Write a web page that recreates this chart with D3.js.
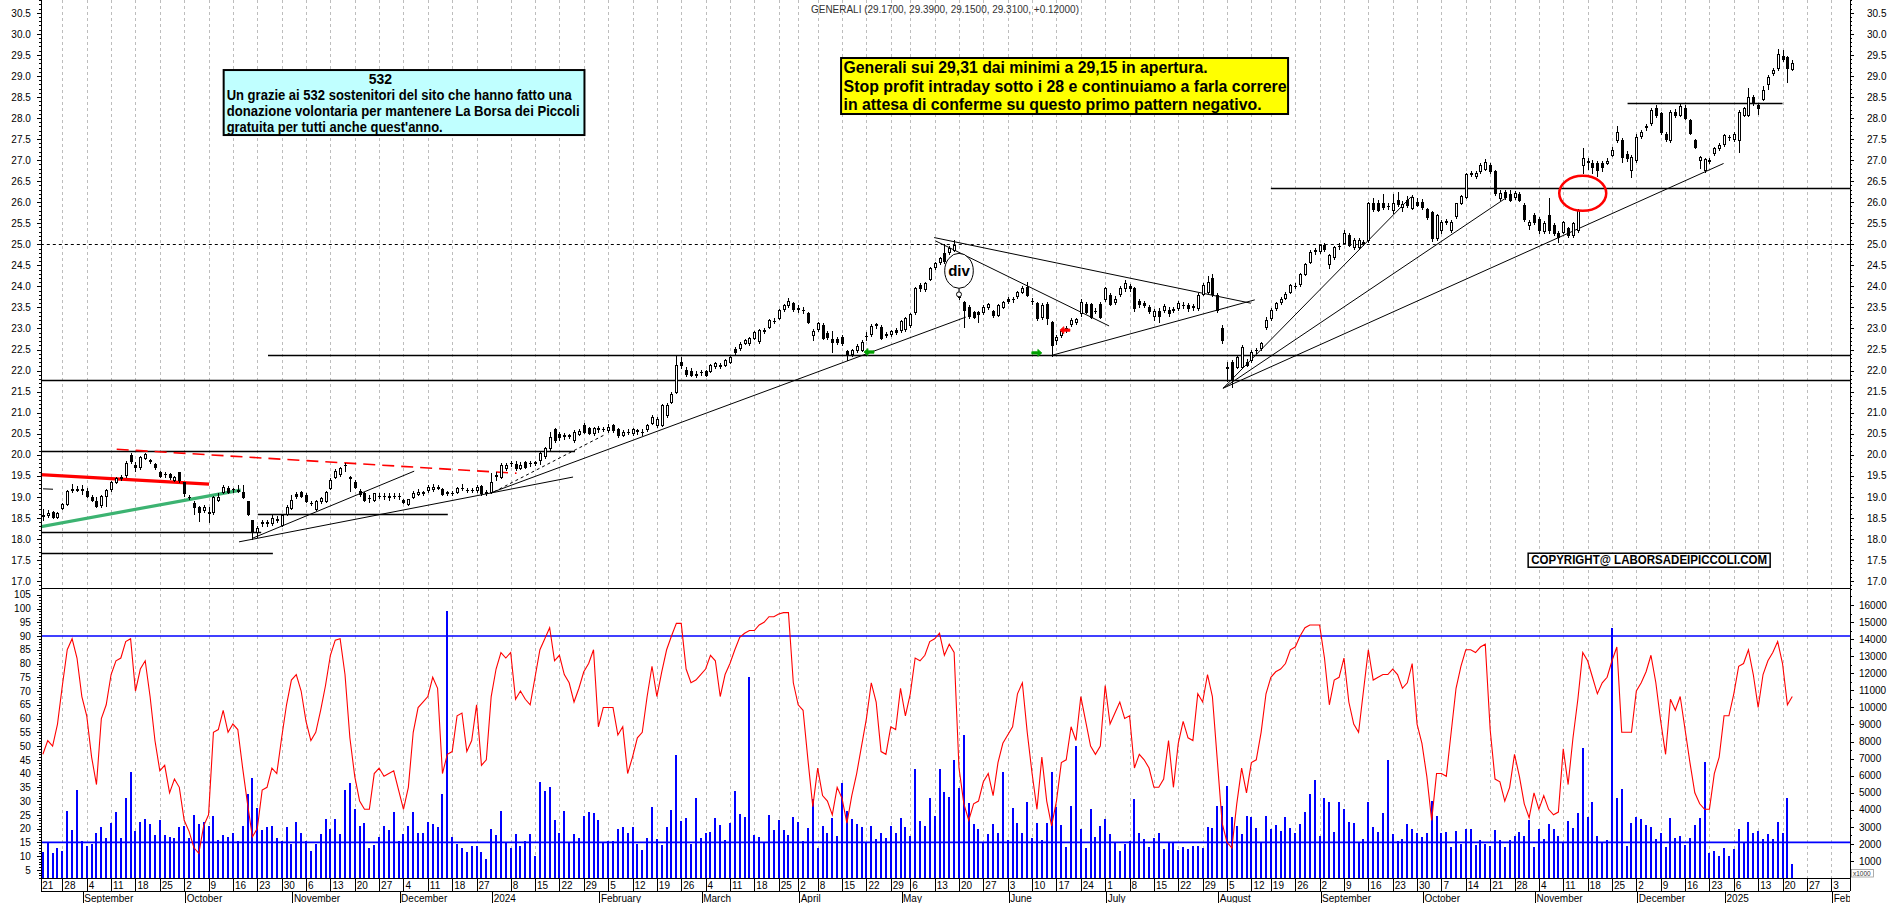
<!DOCTYPE html>
<html><head><meta charset="utf-8">
<script src="https://cdn.jsdelivr.net/npm/d3@7"></script>
<style>
body{margin:0;background:#fff;}
svg{display:block;}
text{font-family:"Liberation Sans",Arial,sans-serif;}
</style>
</head><body>
<svg id="c" width="1890" height="903"></svg>
<script>
// ---------------- DATA (trading day 1 = 22 Aug 2023 ... 360 = 22 Jan 2025) ----------------
const title = "GENERALI (29.1700, 29.3900, 29.1500, 29.3100, +0.12000)";
const holidays = ["2023-12-25","2023-12-26","2024-01-01","2024-03-29","2024-04-01","2024-05-01",
  "2024-08-15","2024-12-24","2024-12-25","2024-12-26","2024-12-31","2025-01-01"];
const monthNames = ["January","February","March","April","May","June","July","August","September","October","November","December"];

const opens = [
18.55,18.58,18.63,18.51,18.73,18.82,19.17,19.17,19.18,19.14,
19.00,18.90,18.80,19.03,19.18,19.36,19.45,19.52,19.99,19.76,
19.70,19.93,19.88,19.78,19.59,19.55,19.55,19.40,19.58,19.35,
19.00,18.86,18.75,18.69,18.63,18.63,18.93,19.12,19.22,19.18,
19.15,19.12,18.89,18.44,18.17,18.38,18.39,18.37,18.47,18.33,
18.60,18.73,19.07,19.12,19.05,18.86,18.71,18.89,18.91,19.20,
19.46,19.54,19.75,19.48,19.36,19.15,19.10,18.97,18.93,19.02,
19.03,19.00,19.03,19.02,18.93,18.83,19.00,19.06,19.10,19.16,
19.18,19.22,19.18,19.10,19.10,19.12,19.21,19.17,19.16,19.16,
19.26,19.10,19.12,19.50,19.48,19.68,19.80,19.78,19.68,19.82,
19.80,19.80,19.88,19.97,20.15,20.61,20.49,20.44,20.46,20.35,
20.50,20.71,20.64,20.52,20.62,20.62,20.58,20.70,20.60,20.47,
20.55,20.52,20.58,20.54,20.60,20.75,20.71,20.71,20.94,21.26,
21.50,22.21,22.01,22.00,21.92,21.96,21.99,21.99,22.10,22.14,
22.13,22.21,22.51,22.53,22.65,22.65,22.77,22.70,22.95,23.04,
23.17,23.26,23.46,23.56,23.60,23.47,23.45,23.36,22.85,22.99,
23.08,22.89,22.75,22.75,22.80,22.46,22.39,22.49,22.49,22.81,
22.86,23.09,23.04,22.88,22.86,22.96,22.96,22.99,23.08,23.38,
24.03,23.94,24.18,24.45,24.57,24.79,24.81,24.87,23.75,23.62,
23.52,23.38,23.38,23.38,23.50,23.41,23.33,23.52,23.70,23.69,
23.76,23.87,23.99,23.66,23.60,23.28,23.57,23.15,22.73,22.85,
22.98,23.10,23.16,23.36,23.57,23.57,23.41,23.58,23.70,23.80,
23.62,23.82,23.95,24.00,23.95,23.66,23.60,23.50,23.30,23.42,
23.45,23.44,23.44,23.49,23.55,23.56,23.50,23.48,23.83,23.87,
24.19,23.80,23.00,22.05,22.21,22.09,22.09,22.21,22.25,22.48,
22.53,23.04,23.24,23.48,23.62,23.73,23.87,24.02,24.05,24.29,
24.58,24.84,24.84,24.98,24.54,24.69,24.96,25.03,25.22,24.94,
24.94,25.04,25.10,25.97,25.97,25.97,25.90,25.81,26.05,25.89,
26.05,25.87,26.00,26.00,25.83,25.77,25.14,25.34,25.54,25.34,
25.67,25.98,26.13,26.68,26.62,26.74,26.80,26.88,26.74,26.11,
26.25,26.20,26.13,26.20,25.93,25.47,25.69,25.61,25.32,25.69,
25.45,25.26,25.30,25.38,25.22,25.34,26.88,26.96,26.94,26.92,
26.92,26.94,27.13,27.47,27.47,27.15,26.76,27.00,27.57,27.78,
27.87,28.25,28.11,27.62,27.47,28.15,28.07,28.23,27.95,27.47,
27.00,26.76,26.98,27.17,27.28,27.38,27.54,27.50,27.47,28.07,
28.07,28.49,28.30,28.46,28.82,29.07,29.18,29.47,29.45,29.17];

const highs = [
18.70,18.68,18.66,18.64,18.85,19.17,19.30,19.25,19.28,19.20,
19.04,19.00,19.05,19.18,19.38,19.48,19.52,19.84,20.03,19.82,
19.97,20.05,19.90,19.80,19.62,19.60,19.57,19.50,19.60,19.36,
19.05,18.90,18.78,18.80,18.77,19.03,19.10,19.28,19.25,19.22,
19.28,19.28,18.90,18.45,18.30,18.45,18.44,18.60,18.55,18.60,
18.80,19.05,19.12,19.15,19.08,18.90,18.92,19.00,19.15,19.45,
19.65,19.72,19.80,19.50,19.40,19.18,19.12,19.05,19.10,19.10,
19.08,19.08,19.10,19.08,18.96,18.96,19.15,19.18,19.15,19.28,
19.30,19.27,19.22,19.15,19.15,19.24,19.30,19.22,19.22,19.27,
19.28,19.16,19.56,19.58,19.80,19.80,19.86,19.84,19.82,19.86,
19.84,19.86,20.06,20.18,20.55,20.63,20.55,20.52,20.50,20.58,
20.60,20.75,20.66,20.66,20.68,20.66,20.72,20.74,20.63,20.58,
20.60,20.63,20.62,20.60,20.74,20.95,20.90,21.20,21.22,21.48,
22.37,22.33,22.08,22.05,21.98,22.02,22.02,22.16,22.20,22.18,
22.28,22.37,22.55,22.67,22.76,22.80,22.95,22.98,23.02,23.22,
23.24,23.46,23.58,23.72,23.64,23.55,23.50,23.40,22.98,23.15,
23.12,22.95,22.93,22.80,22.84,22.50,22.52,22.62,22.72,22.92,
23.10,23.14,23.08,22.92,22.97,23.00,23.20,23.28,23.37,23.98,
24.08,24.10,24.45,24.58,24.70,25.00,24.95,25.10,23.85,23.66,
23.56,23.42,23.42,23.55,23.60,23.45,23.58,23.65,23.74,23.75,
23.90,24.00,24.10,23.72,23.64,23.60,23.62,23.18,22.85,22.98,
23.06,23.24,23.26,23.70,23.62,23.60,23.48,23.62,23.98,23.85,
23.78,24.00,24.15,24.05,23.98,23.70,23.66,23.55,23.46,23.48,
23.58,23.50,23.52,23.65,23.62,23.60,23.58,23.85,24.08,24.25,
24.30,23.84,23.08,22.20,22.25,22.36,22.60,22.28,22.48,22.54,
22.68,23.28,23.48,23.64,23.74,23.86,24.05,24.08,24.31,24.56,
24.86,24.92,25.00,25.02,24.76,24.96,25.02,25.35,25.26,25.14,
25.14,25.10,26.00,26.10,26.05,26.20,25.98,26.20,26.25,26.02,
26.15,26.18,26.10,26.08,25.86,25.80,25.72,25.58,25.60,25.58,
25.99,26.16,26.70,26.75,26.75,26.92,27.02,26.92,26.76,26.28,
26.30,26.28,26.26,26.25,25.98,25.58,25.74,25.66,25.55,26.10,
25.50,25.32,25.56,25.42,25.54,25.85,27.28,27.05,27.00,26.98,
26.98,27.05,27.30,27.82,27.52,27.22,27.12,27.62,27.72,27.85,
28.25,28.32,28.15,27.66,28.18,28.22,28.33,28.30,27.98,27.50,
27.10,27.05,27.06,27.32,27.40,27.62,27.60,27.66,28.18,28.26,
28.72,28.55,28.35,28.76,29.02,29.18,29.65,29.62,29.48,29.39];

const lows = [
18.44,18.52,18.50,18.49,18.70,18.80,19.12,19.14,19.07,19.00,
18.89,18.75,18.77,18.78,19.15,19.33,19.40,19.48,19.80,19.62,
19.66,19.90,19.80,19.66,19.46,19.47,19.43,19.37,19.35,19.03,
18.95,18.60,18.43,18.65,18.41,18.60,18.90,19.10,19.10,19.12,
19.12,18.97,18.58,18.00,18.05,18.30,18.30,18.33,18.40,18.30,
18.56,18.70,18.98,19.00,18.88,18.80,18.68,18.85,18.88,19.18,
19.44,19.50,19.62,19.15,19.20,19.02,18.90,18.88,18.90,18.97,
18.95,18.93,18.97,18.95,18.85,18.80,18.98,19.04,19.05,19.12,
19.15,19.18,19.05,19.05,19.04,19.10,19.17,19.12,19.12,19.12,
19.05,19.05,19.08,19.40,19.45,19.64,19.74,19.64,19.65,19.68,
19.74,19.75,19.78,19.93,20.10,20.30,20.36,20.38,20.40,20.30,
20.46,20.52,20.50,20.48,20.55,20.56,20.55,20.55,20.42,20.44,
20.50,20.48,20.50,20.48,20.57,20.72,20.65,20.68,20.90,21.22,
21.46,22.05,21.88,21.86,21.85,21.90,21.86,21.96,22.06,22.06,
22.10,22.18,22.40,22.50,22.62,22.60,22.74,22.66,22.90,23.00,
23.12,23.22,23.42,23.52,23.42,23.40,23.36,23.12,22.73,22.95,
22.75,22.76,22.43,22.62,22.60,22.25,22.34,22.45,22.46,22.73,
22.82,23.02,22.74,22.80,22.82,22.86,22.92,22.95,23.04,23.34,
23.90,23.90,24.14,24.42,24.54,24.56,24.78,24.84,23.70,23.04,
23.26,23.24,23.16,23.34,23.46,23.28,23.30,23.48,23.60,23.64,
23.72,23.84,23.76,23.58,23.20,23.22,23.10,22.35,22.62,22.80,
22.92,23.06,23.10,23.30,23.36,23.24,23.36,23.24,23.65,23.55,
23.58,23.78,23.90,23.90,23.42,23.52,23.50,23.36,23.20,23.15,
23.40,23.30,23.38,23.45,23.48,23.42,23.44,23.44,23.80,23.84,
23.78,23.40,22.65,21.75,21.62,22.05,22.05,22.10,22.20,22.42,
22.50,22.98,23.20,23.45,23.58,23.70,23.84,23.95,24.02,24.26,
24.55,24.78,24.80,24.84,24.43,24.66,24.90,25.00,24.95,24.90,
24.90,24.98,25.05,25.80,25.78,25.85,25.84,25.75,25.90,25.80,
25.88,25.84,25.90,25.84,25.60,25.08,25.10,25.28,25.48,25.30,
25.62,25.95,26.10,26.62,26.58,26.70,26.76,26.70,26.18,26.06,
26.08,26.02,26.08,26.02,25.56,25.36,25.48,25.28,25.26,25.28,
25.22,25.05,25.26,25.18,25.18,25.30,26.70,26.80,26.70,26.62,
26.75,26.90,27.10,27.44,26.95,26.98,26.60,26.96,27.52,27.72,
27.84,28.02,27.62,27.45,27.44,28.02,28.04,27.98,27.62,27.28,
26.82,26.72,26.94,27.12,27.24,27.34,27.48,27.46,27.20,28.04,
28.04,28.30,28.10,28.42,28.70,29.02,29.15,29.36,28.85,29.15];

const closes = [
18.56,18.62,18.53,18.62,18.82,19.15,19.18,19.19,19.16,19.03,
18.93,18.78,19.03,19.16,19.36,19.44,19.46,19.81,19.84,19.70,
19.94,20.01,19.84,19.70,19.50,19.54,19.46,19.47,19.39,19.08,
18.99,18.77,18.63,18.77,18.61,19.00,19.00,19.24,19.12,19.18,
19.17,18.99,18.60,18.17,18.27,18.39,18.38,18.49,18.46,18.57,
18.77,18.93,19.03,19.03,18.91,18.85,18.89,18.97,19.12,19.40,
19.62,19.68,19.76,19.45,19.24,19.07,18.93,18.98,19.08,19.03,
19.02,19.01,19.02,19.03,18.88,18.94,19.10,19.12,19.11,19.24,
19.24,19.23,19.07,19.11,19.10,19.20,19.22,19.16,19.17,19.24,
19.08,19.12,19.36,19.52,19.76,19.76,19.80,19.68,19.76,19.72,
19.80,19.82,20.03,20.15,20.42,20.35,20.41,20.46,20.45,20.55,
20.56,20.55,20.52,20.63,20.63,20.61,20.67,20.58,20.47,20.53,
20.55,20.60,20.56,20.53,20.71,20.89,20.86,21.18,21.18,21.44,
22.13,22.13,21.91,21.90,21.90,21.97,21.90,22.13,22.17,22.11,
22.25,22.33,22.43,22.64,22.73,22.78,22.92,22.96,22.97,23.20,
23.18,23.44,23.56,23.65,23.46,23.48,23.44,23.16,22.94,23.12,
22.78,22.80,22.67,22.68,22.65,22.37,22.49,22.59,22.69,22.82,
23.07,23.10,22.77,22.84,22.94,22.91,23.18,23.26,23.34,23.95,
23.95,24.07,24.43,24.55,24.68,24.60,24.92,24.98,23.80,23.44,
23.30,23.28,23.34,23.52,23.57,23.32,23.55,23.62,23.65,23.70,
23.87,23.97,23.80,23.65,23.24,23.56,23.26,22.61,22.80,22.95,
23.00,23.20,23.22,23.62,23.40,23.28,23.42,23.28,23.95,23.58,
23.70,23.95,24.07,23.95,23.48,23.58,23.56,23.42,23.42,23.30,
23.53,23.36,23.46,23.60,23.56,23.48,23.54,23.80,24.03,24.11,
23.83,23.44,22.73,22.08,21.78,22.33,22.57,22.13,22.45,22.50,
22.66,23.20,23.44,23.60,23.71,23.83,24.03,24.01,24.29,24.54,
24.82,24.86,24.98,24.88,24.74,24.94,24.97,25.27,24.98,25.10,
25.11,25.05,25.97,25.85,25.81,25.89,25.92,25.97,25.95,25.95,
25.93,26.13,25.93,25.89,25.65,25.14,25.69,25.53,25.55,25.53,
25.97,26.14,26.67,26.69,26.70,26.88,26.96,26.74,26.21,26.22,
26.13,26.06,26.22,26.06,25.61,25.53,25.53,25.34,25.51,25.34,
25.26,25.18,25.53,25.22,25.50,25.81,27.04,26.98,26.84,26.76,
26.84,26.99,27.25,27.67,27.08,27.06,27.08,27.55,27.67,27.80,
28.19,28.07,27.67,27.51,28.15,28.07,28.28,28.01,27.65,27.30,
27.08,27.02,27.00,27.28,27.36,27.59,27.55,27.62,28.15,28.23,
28.50,28.36,28.25,28.66,28.98,29.15,29.53,29.40,29.18,29.31];

// volume, in thousands of shares (axis is "x1000")
const volumes = [
1530,2090,1450,1770,1610,3950,2820,5160,2170,1850,
2010,2660,2980,2330,3220,3870,2330,4670,6210,2740,
3300,3460,3140,2500,3380,2500,2410,2330,2980,3060,
2330,3710,3140,3300,3060,3620,2250,2500,2410,2660,
2170,3060,4910,5880,4110,2820,2980,3060,2330,2170,
2980,2010,3300,2660,2170,1610,2010,2580,3460,2900,
3460,2580,5160,5560,4030,3060,3220,1770,1930,2410,
3060,2820,3870,2170,2580,3060,3870,2660,2660,3300,
3140,2980,4910,15640,2410,2010,1770,1530,1850,1850,
1530,1120,2900,2500,3950,2090,1770,2580,1850,2170,
2580,1290,5640,5080,5320,3380,2660,3950,2090,2580,
2330,3620,3870,3790,3380,2090,2170,2170,2900,2980,
2660,2980,2010,1640,2320,4140,2270,1930,3010,3990,
7210,3360,3500,1970,4670,2340,2620,2680,3500,3110,
2230,3200,5100,3750,3590,11800,2520,2380,2030,3690,
2810,3400,2810,2520,3590,3300,2190,2950,4610,1740,
3070,2660,3500,2460,5550,3950,3460,3160,3010,2130,
3070,2270,2620,2320,3050,2620,3500,2970,2460,6370,
3340,3070,4670,3650,6370,5020,4770,6920,5260,8380,
4380,3150,2850,2090,2580,3160,2620,6190,2230,4080,
3240,2660,4430,2340,3240,2230,3240,6190,4180,3090,
1840,4220,7740,2850,1740,4020,2420,3070,3440,2580,
2090,1600,1990,2190,4610,2620,2290,1800,2320,2620,
1700,2030,2030,1640,1800,1680,1870,1870,1740,2970,
2910,4220,4220,5390,3560,3050,2560,3650,3560,2950,
2090,3650,2850,3110,2770,3560,2910,2620,3160,3850,
4900,5720,2460,4670,4470,2680,4470,4020,3260,3200,
2030,2270,4430,2970,2720,3830,6900,2580,2190,2300,
3150,2850,2620,2420,2620,4530,3650,2620,2680,1840,
2750,1990,2850,2850,1930,2230,1970,1870,2790,2230,
1840,2230,2460,2680,2460,3400,1800,2870,2270,3150,
2870,2480,2090,3320,2910,3830,7620,3590,4430,2460,
2090,2230,14630,4710,5220,1870,3240,3560,3460,3090,
2970,2290,2620,1800,3540,2360,2460,1930,2320,3130,
3500,6780,1480,1600,1290,1740,1290,1680,2870,2030,
3300,2620,2770,2300,2560,2270,3280,2620,4690,820];

// oscillator (left scale 0-100)
const oscillator = [
47,52,50,58,72,85,89,82,68,61,
46,36,60,65,76,81,82,88,89,70,
78,81,68,52,41,43,33,38,35,23,
19,13,11,21,25,55,56,63,55,58,
56,42,29,17,20,34,35,42,40,53,
65,74,76,70,59,52,55,63,72,83,
88.5,89,76,53,39,30,27,27,40,42,
39,40,41,34,27,35,55,64,66,68,
75,71,40,47,48,61,62,48,52,65,
43,45,68,78,84,82,84,67,70,67,
65,75,85,89,93,81,83,76,73,66,
71,77,80,85,57,64,64,64,54,57,
40,46,53,55,68,79,68,77,85,90,
94.6,94.6,78,73,74,76,78,83,81,68,
76,80,85,89.5,91,92,92,94,95,97,
97,98,98.5,98.5,73,65,63,45,28,42,
32,30,25,35,31,22,32,40,50,60,
73,66,48,47,57,56,71,61,69,82,
81,83,88,89,91,83,87,84,42,29,
23,29,30,37,40,32,44,51,54,57,
69,73,55,40,27,46,30,21,30,44,
45,57,52,68,59,50,47,50,72,58,
62,66,60,61,42,47,45,42,35,35,
38,52,35,51,59,53,52,69,66,76,
68,45,22,15,13,29,42,33,44,45,
55,69,75,77,78,80,85,86,90,93,
94,94,94,82,65,74,75,82,66,58,
55,70,85,74,75,76,76,78,76,71,
73,80,58,51,39,23,40,40,39,55,
71,79,85,85,84,86,87,56,38,37,
30,35,47,39,29,24,33,27,32,27,
25,26,49,36,53,67,84,81,75,69,
73,75,81,86,55,55,55,70,73,77,
83,73,59,47,67,63,68,56,44,33,
29,27,27,40,46,61,61,69,79,80,
85,76,64,76,81,84,88,80,65,68];

const priceTicks = d3.range(17, 30.51, 0.5);
const oscTicks = d3.range(5, 106, 5);
const volTicks = d3.range(1000, 16001, 1000);
const oscLevels = [90, 15];

// drawn studies, in (trading-day index, price)
const hLevels = [ // price, from day, to day (null = right edge)
  {p:21.77, a:0, b:null},{p:22.37, a:47.2, b:null},{p:26.33, a:253.0, b:null},
  {p:28.35, a:326.2, b:358.0},{p:20.10, a:0, b:110.2},{p:18.16, a:0, b:45.8},
  {p:17.66, a:0, b:48.2},{p:18.59, a:45.1, b:84.1}];
const trendLines = [
  [41.25,17.93,109.8,19.47],[44.1,18.02,77.2,19.61],[92.8,19.09,190.4,23.27],
  [183.9,25.16,248.9,23.60],[184.2,25.08,219.8,23.06],[208.3,22.37,249.7,23.68],
  [243.2,21.58,281.8,26.13],[243.2,21.58,301.1,26.09],[243.2,21.58,345.9,26.92],
  [1.03,19.19,3.08,19.18]];
const dashedLine = [93.6,19.12,116.2,20.47];
const redThick = [0,19.53,35.1,19.30];
const greenThick = [0,18.28,41.6,19.16];
const redDashed = [16.15,20.13,98.2,19.56];
const divMark = {i:189.0, p:24.37, pin:23.81};
const redCircle = {i:317.0, p:26.21};
const arrows = [{i:169.5,p:22.44,dir:-1,col:"#00a000"},{i:206.0,p:22.42,dir:1,col:"#00a000"},{i:209.7,p:22.96,dir:-1,col:"#ff0000"}];

const note1 = {i:38.1, p:29.14, head:"532", lines:[
  "Un grazie ai 532 sostenitori del sito che hanno fatto una",
  "donazione volontaria per mantenere La Borsa dei Piccoli",
  "gratuita per tutti anche quest'anno."], widths:[345,353,216]};
const note2 = {i:164.8, p:29.426, lines:[
  "Generali sui 29,31 dai minimi a 29,15 in apertura.",
  "Stop profit intraday sotto i 28 e continuiamo a farla correre",
  "in attesa di conferme su questo primo pattern negativo."], widths:[364,443,418]};
const note3 = {i:305.8, p:17.66, text:"COPYRIGHT@ LABORSADEIPICCOLI.COM"};

// ---------------- CALENDAR ----------------
const days = [];
{ let d = new Date(Date.UTC(2023,7,21));
  while (days.length < 373) {
    const dow = d.getUTCDay(), s = d.toISOString().slice(0,10);
    if (dow !== 0 && dow !== 6 && !holidays.includes(s)) days.push(new Date(d));
    d.setUTCDate(d.getUTCDate()+1);
  } }
const candles = opens.map((o,k)=>({i:k+1,o,h:highs[k],l:lows[k],c:closes[k],v:volumes[k],osc:oscillator[k]}));

// ---------------- LAYOUT ----------------
const xL = 40.8, xR = 1850, pBottom = 588.3, vBase = 878, row2 = 891;
const svg = d3.select("#c");
const x = d3.scaleLinear().domain([0,372]).range([38, 38+4.873*372]);
const yP = d3.scaleLinear().domain([17,30]).range([581.0,33.85]);
const yO = d3.scaleLinear().domain([0,100]).range([883.6,608.5]);
const yV = d3.scaleLinear().domain([0,16000]).range([878,605.0]);

const defs = svg.append("defs");
defs.append("clipPath").attr("id","cp").append("rect").attr("x",xL).attr("y",0).attr("width",xR-xL).attr("height",pBottom);
defs.append("clipPath").attr("id","cl").append("rect").attr("x",xL).attr("y",pBottom+0.5).attr("width",xR-xL).attr("height",vBase-pBottom-0.5);
defs.append("clipPath").attr("id","ca").append("rect").attr("x",xL).attr("y",vBase).attr("width",xR-xL).attr("height",30);
defs.append("clipPath").attr("id","clab").append("rect").attr("x",0).attr("y",pBottom+1).attr("width",1890).attr("height",300);

// week ticks & month starts
const weekTicks = [], monthTicks = [];
days.forEach((d,i)=>{
  const dow = (d.getUTCDay()+6)%7;
  const mon = new Date(d); mon.setUTCDate(d.getUTCDate()-dow);
  const sun = new Date(mon); sun.setUTCDate(mon.getUTCDate()+6);
  const prev = i>0 ? days[i-1] : null;
  let newWeek = true;
  if (prev) { const pd=(prev.getUTCDay()+6)%7; newWeek = (d-prev)/864e5 > (dow - pd) || pd >= dow; }
  const hasJan1 = sun.getUTCFullYear() !== mon.getUTCFullYear() || (mon.getUTCMonth()===0 && mon.getUTCDate()===1);
  if (newWeek && !hasJan1) weekTicks.push(i);
  if (prev && prev.getUTCMonth() !== d.getUTCMonth()) monthTicks.push(i);
});

// ---------------- GRID ----------------
const grid = svg.append("g").attr("shape-rendering","crispEdges");
grid.selectAll("line").data(weekTicks.filter(i=>x(i)>xL+1)).join("line")
  .attr("x1",i=>Math.round(x(i))+0.5).attr("x2",i=>Math.round(x(i))+0.5)
  .attr("y1",0).attr("y2",vBase).attr("stroke","#bdbdbd").attr("stroke-dasharray","3,3");

// ---------------- PRICE PANEL ----------------
const gp = svg.append("g").attr("clip-path","url(#cp)");
const line1 = (g,a,col,w,dash)=>g.append("line").attr("x1",x(a[0])).attr("y1",yP(a[1])).attr("x2",x(a[2])).attr("y2",yP(a[3]))
   .attr("stroke",col).attr("stroke-width",w).attr("stroke-dasharray",dash||null);

gp.append("line").attr("x1",xL).attr("x2",xR).attr("y1",Math.round(yP(25))+0.5).attr("y2",Math.round(yP(25))+0.5)
  .attr("stroke","#000").attr("stroke-dasharray","3,3");
hLevels.forEach(h=>{
  const yy = Math.round(yP(h.p))+0.5;
  gp.append("line").attr("x1",h.a===0?xL:x(h.a)).attr("x2",h.b===null?xR:x(h.b)).attr("y1",yy).attr("y2",yy)
    .attr("stroke","#000").attr("stroke-width",1.3);
});
trendLines.forEach(t=>line1(gp,t,"#000",1));
line1(gp,dashedLine,"#000",1,"3,3");
line1(gp,redThick,"#ff0000",3.2);
line1(gp,greenThick,"#3cb371",3.2);
line1(gp,redDashed,"#ff0000",1.6,"12,7");

// candles
const gc = gp.append("g").attr("shape-rendering","crispEdges");
candles.forEach(d=>{
  const bx = Math.round(x(d.i));
  gc.append("line").attr("x1",bx+0.5).attr("x2",bx+0.5).attr("y1",Math.round(yP(d.h))).attr("y2",Math.round(yP(d.l))+1)
    .attr("stroke","#000");
  const top = Math.round(yP(Math.max(d.o,d.c))), bot = Math.round(yP(Math.min(d.o,d.c)));
  if (bot - top < 1) {
    gc.append("line").attr("x1",bx-1).attr("x2",bx+2).attr("y1",top+0.5).attr("y2",top+0.5).attr("stroke","#000");
  } else {
    gc.append("rect").attr("x",bx-0.5).attr("y",top+0.5).attr("width",2).attr("height",bot-top)
      .attr("fill", d.c>=d.o ? "#fff" : "#000").attr("stroke","#000");
  }
});

// div marker
{ const cx = x(divMark.i), cy = yP(divMark.p);
  gp.append("line").attr("x1",cx).attr("x2",cx).attr("y1",cy+17.5).attr("y2",yP(divMark.pin)-2.5).attr("stroke","#000");
  gp.append("circle").attr("cx",cx).attr("cy",yP(divMark.pin)).attr("r",2.5).attr("fill","#fff").attr("stroke","#000");
  gp.append("ellipse").attr("cx",cx).attr("cy",cy).attr("rx",14.3).attr("ry",17.5).attr("fill","#fff").attr("stroke","#000");
  gp.append("text").attr("x",cx).attr("y",cy+5).attr("text-anchor","middle").attr("font-size",15).attr("font-weight","bold").text("div");
}
// red circle
gp.append("ellipse").attr("cx",x(redCircle.i)).attr("cy",yP(redCircle.p)).attr("rx",23.5).attr("ry",17.5)
  .attr("fill","none").attr("stroke","#ff0000").attr("stroke-width",2.5);
// arrows
arrows.forEach(a=>{
  const tx = x(a.i), ty = yP(a.p), s = -a.dir;
  const pts = [[0,0],[4,-3.5],[4,-1.2],[10,-1.2],[10,1.2],[4,1.2],[4,3.5]].map(p=>[tx+s*p[0], ty+p[1]]);
  gp.append("path").attr("d","M"+pts.map(p=>p.join(",")).join("L")+"Z").attr("fill",a.col).attr("stroke",a.col).attr("stroke-width",0.8);
});

// notes
const condensed = '"Liberation Sans Narrow","Arial Narrow","Liberation Sans",Arial,sans-serif';
{ const bx = x(note1.i), by = yP(note1.p);
  svg.append("rect").attr("x",bx).attr("y",by).attr("width",360.8).attr("height",65)
    .attr("fill","#c0ffff").attr("stroke","#000").attr("stroke-width",2);
  svg.append("text").attr("x",bx+156.7).attr("y",by+13.5).attr("text-anchor","middle").attr("font-size",14)
    .attr("font-weight","bold").style("font-family",condensed).text(note1.head);
  note1.lines.forEach((t,k)=>svg.append("text").attr("x",bx+3).attr("y",by+29.5+k*16.3).attr("font-size",14)
    .attr("font-weight","bold").style("font-family",condensed)
    .attr("textLength",note1.widths[k]).attr("lengthAdjust","spacingAndGlyphs").text(t));
}
{ const bx = x(note2.i), by = yP(note2.p);
  svg.append("rect").attr("x",bx).attr("y",by).attr("width",447).attr("height",56)
    .attr("fill","#ffff00").attr("stroke","#000").attr("stroke-width",2);
  note2.lines.forEach((t,k)=>svg.append("text").attr("x",bx+2.5).attr("y",by+15+k*18.6).attr("font-size",16)
    .attr("font-weight","bold").style("font-family",condensed)
    .attr("textLength",note2.widths[k]).attr("lengthAdjust","spacingAndGlyphs").text(t));
}
{ const bx = x(note3.i), by = yP(note3.p);
  svg.append("rect").attr("x",bx).attr("y",by).attr("width",242).attr("height",14)
    .attr("fill","#fff").attr("stroke","#000").attr("stroke-width",1.5);
  svg.append("text").attr("x",bx+3).attr("y",by+11).attr("font-size",12).attr("font-weight","bold")
    .style("font-family",condensed).attr("textLength",236).attr("lengthAdjust","spacingAndGlyphs").text(note3.text);
}
svg.append("text").attr("x",811).attr("y",12.5).attr("font-size",10.5).attr("fill","#333")
  .attr("textLength",268).attr("lengthAdjust","spacingAndGlyphs").text(title);

// ---------------- LOWER PANEL ----------------
const gl = svg.append("g").attr("clip-path","url(#cl)");
gl.append("g").attr("shape-rendering","crispEdges").selectAll("rect").data(candles).join("rect")
  .attr("x",d=>Math.round(x(d.i))-1).attr("width",2)
  .attr("y",d=>Math.round(yV(d.v))).attr("height",d=>vBase-Math.round(yV(d.v)))
  .attr("fill","#0000ff");
oscLevels.forEach(v=>gl.append("line").attr("x1",xL).attr("x2",xR).attr("y1",yO(v)).attr("y2",yO(v))
  .attr("stroke","#0000ff").attr("stroke-width",1.6));
gl.append("path").datum(candles).attr("fill","none").attr("stroke","#ff0000").attr("stroke-width",1.1)
  .attr("d",d3.line().x(d=>x(d.i)).y(d=>yO(d.osc)));

// ---------------- FRAMES & AXES ----------------
const fr = svg.append("g").attr("shape-rendering","crispEdges").attr("stroke","#000");
fr.append("line").attr("x1",xL).attr("x2",xR).attr("y1",Math.round(pBottom)+0.5).attr("y2",Math.round(pBottom)+0.5).attr("stroke-width",1.5);
fr.append("line").attr("x1",xL).attr("x2",xR).attr("y1",vBase+0.5).attr("y2",vBase+0.5).attr("stroke-width",1.5);
fr.append("line").attr("x1",xL).attr("x2",xR).attr("y1",row2+0.5).attr("y2",row2+0.5).attr("stroke-width",1.5);
fr.append("line").attr("x1",Math.round(xL)+0.5).attr("x2",Math.round(xL)+0.5).attr("y1",0).attr("y2",row2).attr("stroke-width",1.5);
fr.append("line").attr("x1",xR+0.5).attr("x2",xR+0.5).attr("y1",0).attr("y2",row2).attr("stroke-width",1.5);

const styleAxis = g=>{ g.select(".domain").remove(); g.selectAll("line").attr("stroke","#000").attr("shape-rendering","crispEdges");
  g.selectAll("text").attr("font-size",10).attr("fill","#000").style("font-family",'"Liberation Sans",Arial,sans-serif'); };
const noLab = g=>{ g.select(".domain").remove(); g.selectAll("text").remove(); g.selectAll("line").attr("stroke","#000").attr("shape-rendering","crispEdges"); };

// price axes
svg.append("g").attr("transform",`translate(${xL},0)`).call(d3.axisLeft(yP).tickValues(d3.range(16.8,30.95,0.1)).tickSize(2)).call(noLab);
svg.append("g").attr("transform",`translate(${xL},0)`).call(d3.axisLeft(yP).tickValues(priceTicks).tickSize(4).tickPadding(6).tickFormat(d3.format(".1f"))).call(styleAxis);
svg.append("g").attr("transform",`translate(${xR},0)`).call(d3.axisRight(yP).tickValues(d3.range(16.8,30.95,0.1)).tickSize(2)).call(noLab);
svg.append("g").attr("transform",`translate(${xR},0)`).call(d3.axisRight(yP).tickValues(priceTicks).tickSize(4).tickPadding(13).tickFormat(d3.format(".1f"))).call(styleAxis);
// lower axes
const gla = svg.append("g").attr("clip-path","url(#clab)");
gla.append("g").attr("transform",`translate(${xL},0)`).call(d3.axisLeft(yO).tickValues(d3.range(2,106,1)).tickSize(2)).call(noLab);
gla.append("g").attr("transform",`translate(${xL},0)`).call(d3.axisLeft(yO).tickValues(oscTicks).tickSize(4).tickPadding(6).tickFormat(d3.format("d"))).call(styleAxis);
gla.append("g").attr("transform",`translate(${xR},0)`).call(d3.axisRight(yV).tickValues(d3.range(500,16600,500)).tickSize(2)).call(noLab);
gla.append("g").attr("transform",`translate(${xR},0)`).call(d3.axisRight(yV).tickValues(volTicks).tickSize(4).tickPadding(5).tickFormat(d3.format("d"))).call(styleAxis);
svg.append("rect").attr("x",1851.5).attr("y",869.5).attr("width",22).attr("height",7.5).attr("fill","#fff").attr("stroke","#999").attr("stroke-width",0.8);
svg.append("text").attr("x",1853).attr("y",875.8).attr("font-size",6.5).attr("fill","#333").text("x1000");

// date axis
const ga = svg.append("g").attr("clip-path","url(#ca)");
ga.append("g").attr("shape-rendering","crispEdges").selectAll("line").data(weekTicks).join("line")
  .attr("x1",i=>Math.round(x(i))+0.5).attr("x2",i=>Math.round(x(i))+0.5).attr("y1",vBase).attr("y2",row2).attr("stroke","#000");
ga.selectAll("text.d").data(weekTicks).join("text").attr("class","d")
  .attr("x",i=>Math.max(x(i)+2, xL+1.5)).attr("y",888.5).attr("font-size",10).text(i=>days[i].getUTCDate());
ga.append("g").attr("shape-rendering","crispEdges").selectAll("line").data(monthTicks).join("line")
  .attr("x1",i=>Math.round(x(i))+1.5).attr("x2",i=>Math.round(x(i))+1.5).attr("y1",row2).attr("y2",903).attr("stroke","#000");
ga.selectAll("text.m").data(monthTicks).join("text").attr("class","m")
  .attr("x",i=>x(i)+2.5).attr("y",901.8).attr("font-size",10)
  .text(i=>days[i].getUTCMonth()===0 ? String(days[i].getUTCFullYear()) : monthNames[days[i].getUTCMonth()]);
</script>
</body></html>
